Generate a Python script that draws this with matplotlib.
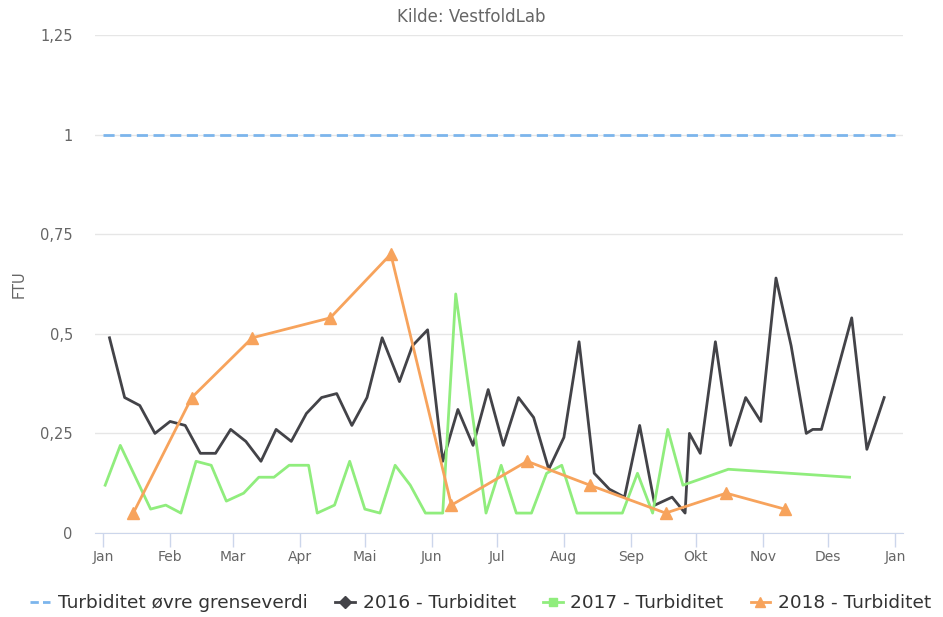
import pandas as pd
import matplotlib
matplotlib.use("Agg")
import matplotlib.pyplot as plt
from matplotlib.lines import Line2D

# data, dates plotted on one common year
limit_value = 1.0

dates_2016 = ["01-04", "01-11", "01-18", "01-25", "02-01", "02-08", "02-15", "02-22",
              "02-29", "03-07", "03-14", "03-21", "03-28", "04-04", "04-11", "04-18",
              "04-25", "05-02", "05-09", "05-17", "05-23", "05-30", "06-06", "06-13",
              "06-20", "06-27", "07-04", "07-11", "07-18", "07-25", "08-01", "08-08",
              "08-15", "08-22", "08-29", "09-05", "09-12", "09-20", "09-26", "09-28",
              "10-03", "10-10", "10-17", "10-24", "10-31", "11-07", "11-14", "11-21",
              "11-24", "11-28", "12-12", "12-19", "12-27"]
values_2016 = [0.49, 0.34, 0.32, 0.25, 0.28, 0.27, 0.20, 0.20,
               0.26, 0.23, 0.18, 0.26, 0.23, 0.30, 0.34, 0.35,
               0.27, 0.34, 0.49, 0.38, 0.47, 0.51, 0.18, 0.31,
               0.22, 0.36, 0.22, 0.34, 0.29, 0.16, 0.24, 0.48,
               0.15, 0.11, 0.09, 0.27, 0.07, 0.09, 0.05, 0.25,
               0.20, 0.48, 0.22, 0.34, 0.28, 0.64, 0.47, 0.25,
               0.26, 0.26, 0.54, 0.21, 0.34]

dates_2017 = ["01-02", "01-09", "01-23", "01-30", "02-06", "02-13", "02-20", "02-27",
              "03-06", "03-13", "03-20", "03-27", "04-05", "04-09", "04-17", "04-24",
              "05-01", "05-08", "05-15", "05-22", "05-29", "06-06", "06-12", "06-26",
              "07-03", "07-10", "07-17", "07-24", "07-31", "08-07", "08-21", "08-28",
              "09-04", "09-11", "09-18", "09-25", "10-16", "12-11"]
values_2017 = [0.12, 0.22, 0.06, 0.07, 0.05, 0.18, 0.17, 0.08,
               0.10, 0.14, 0.14, 0.17, 0.17, 0.05, 0.07, 0.18,
               0.06, 0.05, 0.17, 0.12, 0.05, 0.05, 0.60, 0.05,
               0.17, 0.05, 0.05, 0.15, 0.17, 0.05, 0.05, 0.05,
               0.15, 0.05, 0.26, 0.12, 0.16, 0.14]

dates_2018 = ["01-15", "02-11", "03-10", "04-15", "05-13", "06-10", "07-15", "08-13",
              "09-17", "10-15", "11-11"]
values_2018 = [0.05, 0.34, 0.49, 0.54, 0.70, 0.07, 0.18, 0.12, 0.05, 0.10, 0.06]

month_labels = ["Jan", "Feb", "Mar", "Apr", "Mai", "Jun", "Jul", "Aug",
                "Sep", "Okt", "Nov", "Des", "Jan"]
y_ticks = [0, 0.25, 0.5, 0.75, 1, 1.25]
y_labels = ["0", "0,25", "0,5", "0,75", "1", "1,25"]

base = "2016-"
def to_dates(d):
    return pd.to_datetime([base + s for s in d])

fig = plt.figure(figsize=(9.43, 6.17), dpi=100)
ax = fig.add_axes([95 / 943, 84 / 617, 808 / 943, 498 / 617])

start = pd.Timestamp("2016-01-01")
end = pd.Timestamp("2017-01-01")
pad = pd.Timedelta(days=3.7)

ax.plot([start, end], [limit_value, limit_value], color="#7cb5ec", lw=2,
        dashes=(4, 2), zorder=2)
ax.plot(to_dates(dates_2016), values_2016, color="#434348", lw=2, zorder=3)
ax.plot(to_dates(dates_2017), values_2017, color="#90ed7d", lw=2, zorder=3)
ax.plot(to_dates(dates_2018), values_2018, color="#f7a35c", lw=2, marker="^",
        markersize=8, zorder=4)

ax.set_xlim(start - pad, end + pad)
ax.set_ylim(0, 1.25)

ticks = pd.date_range(start, end, freq="MS")
ax.set_xticks(ticks)
ax.set_xticklabels(month_labels, fontsize=10, color="#666666")
ax.tick_params(axis="x", length=10, color="#ccd6eb", width=1, pad=2)

ax.set_yticks(y_ticks)
ax.set_yticklabels(y_labels, fontsize=10.5, color="#666666")
ax.tick_params(axis="y", length=0, pad=16)
ax.yaxis.grid(True, color="#e6e6e6", lw=1)
ax.set_axisbelow(True)

for s in ["top", "right", "left"]:
    ax.spines[s].set_visible(False)
ax.spines["bottom"].set_color("#ccd6eb")
ax.spines["bottom"].set_zorder(1)

ax.set_ylabel("FTU", fontsize=10.5, color="#666666", labelpad=10)
fig.text(0.5, 1 - 17 / 617, "Kilde: VestfoldLab", ha="center", va="center",
         fontsize=12, color="#666666")

handles = [
    Line2D([], [], color="#7cb5ec", lw=2, dashes=(3, 1.5)),
    Line2D([], [], color="#434348", lw=2, marker="D", markersize=6),
    Line2D([], [], color="#90ed7d", lw=2, marker="s", markersize=6),
    Line2D([], [], color="#f7a35c", lw=2, marker="^", markersize=7),
]
labels = ["Turbiditet øvre grenseverdi", "2016 - Turbiditet",
          "2017 - Turbiditet", "2018 - Turbiditet"]
fig.legend(handles, labels, loc="center", bbox_to_anchor=(0.51, 1 - 603 / 617),
           ncol=4, frameon=False, fontsize=13.3, handlelength=1.08,
           columnspacing=1.45, handletextpad=0.43, labelcolor="#333333",
           borderaxespad=0, borderpad=0)

fig.savefig("out.png", dpi=100)
